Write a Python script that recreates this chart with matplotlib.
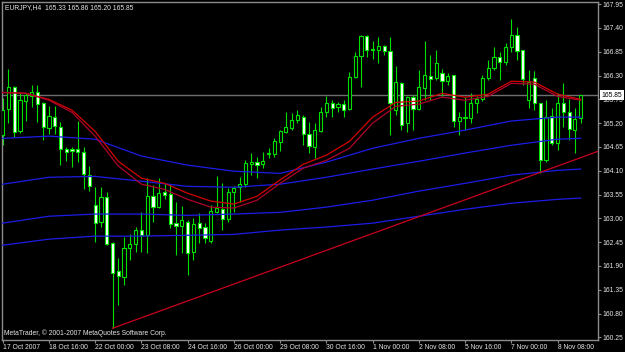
import numpy as np
import matplotlib
matplotlib.use("Agg")
import matplotlib.pyplot as plt

plt.rcParams['font.family'] = ['Liberation Sans', 'DejaVu Sans']

# EURJPY H4 bars, 17 Oct 2007 08:00 .. 9 Nov 2007 00:00
opens = [164.92, 165.52, 166.03, 165.01, 165.71, 165.82, 165.91, 165.66, 165.08, 165.34,
         165.11, 164.60, 164.60, 164.60, 164.53, 164.00, 163.30, 162.91, 163.49, 162.43,
         161.78, 161.64, 162.31, 162.40, 162.73, 162.61, 163.51, 163.26, 163.61, 163.56,
         162.89, 162.82, 162.91, 162.22, 162.89, 162.80, 162.47, 163.14, 163.21, 162.98,
         163.61, 163.72, 163.79, 164.25, 164.30, 164.25, 164.48, 164.48, 164.76, 164.99,
         165.08, 165.27, 165.34, 164.95, 164.64, 165.01, 165.45, 165.66, 165.57, 165.64,
         165.52, 166.26, 166.75, 167.21, 166.91, 166.89, 166.98, 166.86, 165.50, 166.12,
         165.20, 165.80, 165.52, 166.01, 166.28, 166.24, 166.35, 166.17, 166.31, 165.25,
         165.31, 165.31, 165.66, 165.75, 166.24, 166.47, 166.72, 166.61, 166.96, 167.23,
         166.89, 165.73, 166.24, 165.66, 164.34, 165.36, 164.74, 165.66, 165.45, 165.04,
         165.33]
highs = [165.78, 166.45, 166.05, 165.89, 165.89, 166.08, 166.08, 165.68, 165.59, 165.59,
         165.22, 164.64, 164.64, 165.25, 164.64, 164.21, 163.72, 163.72, 163.61, 162.45,
         162.08, 162.57, 162.63, 162.80, 163.14, 163.93, 163.77, 163.93, 163.81, 163.79,
         163.37, 163.28, 162.96, 163.00, 163.12, 162.89, 163.30, 163.97, 163.81, 163.70,
         163.74, 163.95, 164.34, 164.51, 164.41, 164.53, 164.62, 164.85, 165.04, 165.45,
         165.43, 165.50, 165.38, 165.22, 165.20, 165.57, 165.82, 165.73, 165.68, 165.73,
         166.38, 166.84, 167.23, 167.23, 167.10, 167.19, 167.00, 167.19, 166.52, 166.15,
         165.82, 165.85, 166.42, 167.10, 166.77, 166.89, 166.45, 166.35, 166.31, 165.45,
         165.80, 165.89, 165.82, 166.31, 166.66, 166.96, 166.84, 167.05, 167.60, 167.42,
         166.89, 166.42, 166.40, 165.66, 165.73, 165.55, 165.89, 166.12, 165.75, 165.55,
         165.86]
lows = [164.69, 165.20, 164.88, 164.97, 165.25, 165.57, 165.22, 164.81, 164.95, 164.95,
        164.23, 164.32, 164.18, 164.30, 163.67, 163.63, 162.45, 162.80, 162.38, 160.46,
        160.99, 161.46, 162.03, 162.22, 162.22, 162.20, 162.91, 163.24, 163.44, 162.77,
        162.15, 162.20, 161.69, 162.03, 162.43, 162.43, 162.43, 163.12, 162.73, 162.91,
        163.14, 163.37, 163.72, 164.00, 163.93, 164.16, 164.39, 164.41, 164.55, 164.97,
        165.04, 165.20, 164.69, 164.51, 164.39, 164.99, 165.34, 165.34, 165.45, 165.34,
        165.50, 166.24, 166.03, 166.72, 166.68, 166.59, 166.77, 164.92, 165.38, 165.04,
        164.99, 165.04, 165.50, 165.73, 165.73, 166.19, 165.82, 166.08, 165.11, 164.92,
        165.04, 165.20, 165.43, 165.71, 166.19, 166.42, 166.19, 166.54, 166.84, 166.66,
        166.08, 165.55, 165.50, 164.04, 164.30, 164.69, 164.58, 165.11, 164.81, 164.51,
        165.20]
closes = [165.50, 166.03, 164.99, 165.73, 165.85, 165.91, 165.64, 165.11, 165.36, 165.13,
          164.60, 164.53, 164.55, 164.53, 164.02, 163.74, 162.89, 163.49, 162.40, 161.73,
          161.66, 162.31, 162.40, 162.73, 162.61, 163.51, 163.26, 163.58, 163.54, 162.87,
          162.82, 162.96, 162.20, 162.87, 162.77, 162.54, 163.17, 163.24, 162.98, 163.61,
          163.70, 163.79, 164.28, 164.30, 164.23, 164.32, 164.51, 164.78, 165.01, 165.11,
          165.27, 165.38, 164.95, 164.67, 165.04, 165.45, 165.66, 165.55, 165.64, 165.50,
          166.26, 166.75, 167.21, 166.89, 166.90, 166.98, 166.86, 165.66, 166.15, 165.15,
          165.80, 165.52, 166.03, 166.31, 166.22, 166.59, 166.17, 166.28, 165.25, 165.34,
          165.34, 165.66, 165.75, 166.24, 166.47, 166.72, 166.61, 166.96, 167.23, 166.86,
          166.22, 166.15, 165.66, 164.34, 165.34, 164.74, 165.66, 165.45, 165.06, 165.29,
          165.85]

# moving averages
ma_bars = [0, 8, 16, 24, 32, 40, 48, 56, 64, 72, 80, 88, 96, 100]
ma_blue_1 = [164.85, 164.90, 164.83, 164.44, 164.23, 164.09, 164.04, 164.30, 164.62, 164.85, 165.04, 165.25, 165.34, 165.34]
ma_blue_2 = [163.79, 163.95, 163.97, 163.86, 163.74, 163.72, 163.79, 163.95, 164.14, 164.32, 164.51, 164.69, 164.83, 164.85]
ma_blue_3 = [162.89, 163.05, 163.10, 163.10, 163.07, 163.10, 163.14, 163.26, 163.42, 163.63, 163.81, 164.00, 164.11, 164.14]
ma_blue_4 = [162.38, 162.52, 162.59, 162.59, 162.61, 162.63, 162.73, 162.80, 162.89, 163.05, 163.21, 163.35, 163.44, 163.47]

red_bars = list(range(0, 101, 4))
ma_red_1 = [165.91, 165.89, 165.75, 165.50, 165.01, 164.32, 163.93, 163.81, 163.58, 163.40, 163.33, 163.51, 163.89,
            164.25, 164.46, 164.78, 165.34, 165.68, 165.71, 165.89, 165.80, 165.87, 166.17, 166.15, 165.87, 165.75]
ma_red_2 = [165.91, 165.89, 165.73, 165.45, 164.90, 164.21, 163.79, 163.67, 163.44, 163.26, 163.24, 163.42, 163.81,
            164.16, 164.34, 164.62, 165.20, 165.59, 165.64, 165.80, 165.73, 165.82, 166.12, 166.10, 165.82, 165.73]

# trend line from the 22 Oct low to the right edge
trend_bars = [19, 103]
trend_prices = [160.46, 164.55]

last_price = 165.85
y_ticks = [167.95, 167.40, 166.85, 166.30, 165.75, 165.20, 164.65, 164.10, 163.55,
           163.00, 162.45, 161.90, 161.35, 160.80, 160.25]
x_tick_bars = [0, 8, 16, 24, 32, 40, 48, 56, 64, 72, 80, 88, 96]
x_tick_labels = ['17 Oct 2007', '18 Oct 16:00', '22 Oct 00:00', '23 Oct 08:00', '24 Oct 16:00',
                 '26 Oct 00:00', '29 Oct 08:00', '30 Oct 16:00', '1 Nov 00:00', '2 Nov 08:00',
                 '5 Nov 16:00', '7 Nov 00:00', '8 Nov 08:00']

GREEN = '#00e000'
GRAY = '#8c8c8c'
FS = 4.9

fig = plt.figure(figsize=(6.25, 3.52), dpi=100, facecolor='black')
ax = fig.add_axes([2 / 625, 12 / 352, 596 / 625, 338 / 352])
ax.set_facecolor('black')

x = np.arange(len(opens))
o = np.array(opens)
c = np.array(closes)

ax.axhline(last_price, color='#6e6e6e', lw=1.0, zorder=1)

# candles: black body = up, white body = down
ax.vlines(x, lows, highs, color=GREEN, lw=0.8, zorder=2)
up = c >= o
body_h = np.maximum(np.abs(c - o), 0.012)
ax.bar(x[up], body_h[up], bottom=o[up], width=0.55, color='black',
       edgecolor=GREEN, linewidth=0.8, zorder=3)
ax.bar(x[~up], body_h[~up], bottom=c[~up], width=0.55, color='white',
       edgecolor=GREEN, linewidth=0.8, zorder=3)

for ma in [ma_blue_1, ma_blue_2, ma_blue_3, ma_blue_4]:
    ax.plot(ma_bars, ma, color='#1c1ce6', lw=0.9, zorder=4)
ax.plot(red_bars, ma_red_1, color='#d40000', lw=0.9, zorder=4)
ax.plot(red_bars, ma_red_2, color='#b0002a', lw=0.9, zorder=4)
ax.plot(trend_bars, trend_prices, color='#c8001e', lw=0.9, zorder=4)

ax.set_xlim(-0.12, 103.0)
ax.set_ylim(160.19, 168.0)

for side in ['left', 'right', 'top', 'bottom']:
    ax.spines[side].set_color(GRAY)
    ax.spines[side].set_linewidth(1.0)

ax.yaxis.tick_right()
ax.set_yticks(y_ticks)
ax.set_yticklabels(['%.2f' % v for v in y_ticks])
ax.set_xticks(x_tick_bars)
ax.set_xticklabels(x_tick_labels)
for lab in ax.get_xticklabels():
    lab.set_horizontalalignment('left')
ax.tick_params(axis='both', colors=GRAY, labelcolor='#e6e6e6', labelsize=FS,
               direction='out', length=2.2, width=0.8, pad=1.0)

# current price marker on the price scale
ax.text(1.006, last_price, '%.2f' % last_price, transform=ax.get_yaxis_transform(),
        ha='left', va='center', fontsize=FS, color='black', clip_on=False, zorder=10,
        bbox=dict(facecolor='white', edgecolor='none', boxstyle='square,pad=0.25'))

fig.text(5 / 625, 1 - 7.5 / 352, 'EURJPY,H4  165.33 165.86 165.20 165.85',
         ha='left', va='center', fontsize=FS, color='#e6e6e6')
fig.text(4 / 625, 1 - 333.5 / 352, 'MetaTrader, \u00a9 2001-2007 MetaQuotes Software Corp.',
         ha='left', va='center', fontsize=FS, color='#e6e6e6')

fig.savefig('out.png', dpi=100, facecolor='black')
